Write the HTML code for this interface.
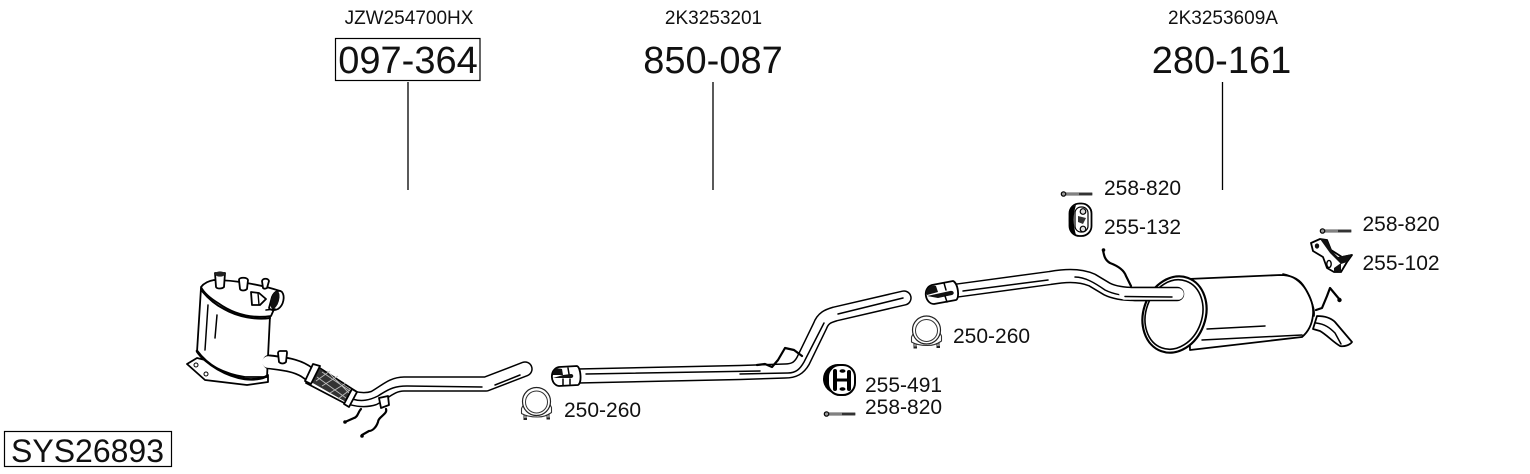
<!DOCTYPE html>
<html><head><meta charset="utf-8"><style>
html,body{margin:0;padding:0;background:#fff}
svg{display:block}
text{font-family:"Liberation Sans",sans-serif;fill:#111}
.l{font-size:21px}
.t{font-size:19px;text-anchor:middle}
.b{font-size:38px;text-anchor:middle}
.o{fill:none;stroke:#000;stroke-linejoin:round;stroke-linecap:round}
.w{fill:none;stroke:#fff;stroke-linejoin:round;stroke-linecap:round}
.s{fill:#fff;stroke:#000;stroke-width:1.8;stroke-linejoin:round}
.n{fill:none;stroke:#000;stroke-width:1.5;stroke-linecap:round}
.x{fill:none;stroke:#000;stroke-width:2.2;stroke-linecap:round;stroke-linejoin:round}
</style></head><body>
<svg width="1530" height="474" viewBox="0 0 1530 474" xmlns="http://www.w3.org/2000/svg">
<defs>
<g id="clamp">
<path d="M-12 1L-15 7V12C-10 15 -4 15.500 1 15.500C7 15.500 11 14 15 11V6L12 0" fill="#fff" stroke="#333" stroke-width="1.100" stroke-linejoin="round"/>
<circle cx="0" cy="0" r="14" fill="#fff" stroke="#222" stroke-width="1.200"/>
<circle cx="0" cy="0.500" r="11" fill="#fff" stroke="#333" stroke-width="1"/>
<path d="M-12.500 13V17M-10.500 14V17M10.500 13V16.500M12.500 12V16.500" stroke="#222" stroke-width="1" fill="none"/>
<path d="M-13 16.500h3.500v2h-3.500zM10 16h3.500v2h-3.500z" fill="#222"/>
</g>
<g id="bolt">
<circle cx="1.500" cy="0" r="2.200" fill="#999" stroke="#000" stroke-width="1.200"/>
<path d="M4 -1H30V1H4Z" fill="#bbb" stroke="#222" stroke-width="0.700"/>
<path d="M17 -1.300H30V1.300H17Z" fill="#333"/>
</g>
</defs>

<text class="t" x="409" y="24">JZW254700HX</text>
<text class="t" x="713.500" y="24">2K3253201</text>
<text class="t" x="1223" y="24">2K3253609A</text>
<rect x="335.500" y="38.500" width="144.500" height="42" fill="#fff" stroke="#000" stroke-width="1.200"/>
<text class="b" x="408" y="73">097-364</text>
<text class="b" x="713" y="73">850-087</text>
<text class="b" x="1221.500" y="73">280-161</text>
<path d="M408 82V190M713 82V190M1222.500 82V190" stroke="#000" stroke-width="1.300" fill="none"/>
<rect x="4.500" y="431.500" width="167" height="35" fill="#fff" stroke="#000" stroke-width="1.200"/>
<text x="11" y="462" style="font-size:32px">SYS26893</text>

<!-- catalyst -->
<path class="s" d="M187 364L197 358L268 375V382L247 385L205 380Z"/>
<circle cx="196" cy="365" r="2" fill="#fff" stroke="#000"/>
<circle cx="206" cy="374" r="2" fill="#fff" stroke="#000"/>
<path class="s" stroke-width="2.400" d="M201 288L197 352C205 364 225 374 245 377L267 377L270 316Z"/>
<path class="n" d="M208 305L205 350M217 315L215 338"/>
<path class="o" stroke-width="2.600" d="M197 351C207 365 226 376 245 379C253 380 262 379 267 376"/>
<path class="s" stroke-width="2" d="M201 287C204 283 208 281 214 280C235 280 262 285 280 291L279 298L271 316C250 319 232 313 218 303C210 298 204 293 201 287Z"/>
<path class="o" stroke-width="2" d="M202 291C207 297 214 304 224 309C238 317 256 320 270 318"/>
<path class="s" d="M215 273H225L224 287C222 289 217 289 216 287Z"/>
<ellipse cx="220" cy="274" rx="5" ry="2.600" fill="#222"/>
<path class="s" d="M239 280C239 277 247 277 248 280L247 289C245 291 241 291 240 289Z"/>
<path class="s" d="M262 281C263 278 268 278 269 281L267 288C265 289 264 289 263 288Z"/>
<path class="s" d="M251 292L259 293L266 299L260 305L252 305Z"/>
<path d="M258 293L259 305" stroke="#000" fill="none" stroke-width="1.400"/>
<path class="s" stroke-width="1.400" d="M272 297C275 290 280 290 282 292C285 296 284 305 278 309C274 311 270 310 269 308Z"/>
<ellipse cx="275" cy="300" rx="4" ry="9" transform="rotate(16 275 300)" fill="#111"/>
<path class="n" d="M266 310L275 309"/>

<!-- pipe 1 -->
<path class="o" stroke-width="15" d="M270 362C285 364 295 365 305 371L318 380" stroke-linecap="butt"/>
<path class="w" stroke-width="11.500" d="M268 362C285 364 295 365 305 371L318 380"/>
<path class="o" stroke-width="15.500" d="M352 398C360 400 368 400 374 398C385 392 392 384 404 384H486L525 369"/>
<path class="w" stroke-width="12.500" d="M352 398C360 400 368 400 374 398C385 392 392 384 404 384H486L525 369"/>
<path class="n" d="M352 399C362 402 370 400 378 396C390 388 396 386 407 386L482 387M495 385L520 375" stroke-width="1.300"/>
<path class="s" stroke-width="1.400" d="M315 365L357 392L348 405L306 383Z"/>
<path d="M319 368L354 392L346 402L311 382Z" fill="#333"/>
<path d="M322 372L350 391M327 371L352 396M317 377L346 398M330 371L316 381M338 376L322 386M346 383L330 393M351 389L338 399" stroke="#bbb" stroke-width="0.900" fill="none"/>
<path class="s" stroke-width="1.600" d="M313 364L320 366L311 384L305 381Z"/>
<path class="s" stroke-width="1.600" d="M352 389L357 392L349 407L344 404Z"/>
<path class="s" d="M280 351H286C287 351 287 352 287 353L286 362C284 364 281 364 279 362L278 353C278 352 279 351 280 351Z"/>
<path class="s" d="M379 398L388 396L389 405L381 408Z"/>
<path class="x" d="M361 409C358 412 358 417 354 418L345 422"/>
<path class="x" d="M386 409C388 414 378 417 378 422C376 428 372 431 369 431L362 435"/>
<circle cx="345" cy="422" r="1.800" fill="#000"/><circle cx="362" cy="436" r="1.800" fill="#000"/>

<!-- pipe 2 -->
<path class="o" stroke-width="15.500" d="M578 376L740 372.500L785 371C794 371 799 368 803 361L820 326C823 318 828 316 835 314L904 298"/>
<path class="w" stroke-width="12.500" d="M578 376L740 372.500L785 371C794 371 799 368 803 361L820 326C823 318 828 316 835 314L904 298"/>
<path class="n" d="M586 374L760 371M740 374L788 373C796 373 800 369 804 362L824 323M838 314L903 298" stroke-width="1.300"/>
<path class="s" stroke-width="2" d="M559 367L577 366C581 368 582 383 578 385L559 386C550 385 549 369 559 367Z"/>
<path d="M553 372C555 368 559 368 562 369L563 375H553ZM553 378H571C574 378 574 374 571 374L563 375" fill="#111"/>
<path class="n" d="M568 368L569 374M563 379V385M570 379V384"/>
<path class="x" d="M757 365L765 364L772 367L778 360L785 348L794 350L802 356" stroke-width="2.400"/>

<!-- pipe 3 -->
<path class="o" stroke-width="14.500" d="M950 291.500L1050 278C1062 276 1078 274 1092 280L1107 289C1115 293 1125 294 1135 294H1177"/>
<path class="w" stroke-width="11.500" d="M950 291.500L1050 278C1062 276 1078 274 1092 280L1107 289C1115 293 1125 294 1135 294H1177"/>
<path class="n" d="M963 291L1048 280M1075 277C1085 277 1095 283 1105 290C1115 295 1125 296 1135 296L1170 297" stroke-width="1.300"/>
<path class="s" stroke-width="2" d="M932 285L953 281C958 283 960 298 956 300L934 304C925 304 922 288 932 285Z"/>
<path d="M926 292C928 286 933 285 936 286L938 292L927 295ZM927 296L950 291C954 290 955 294 952 295L938 298Z" fill="#111"/>
<path class="n" d="M944 283L946 290M945 296L947 302"/>
<path class="x" d="M1103 250C1104 256 1105 260 1110 263C1118 266 1124 270 1126 276L1131 286" stroke-width="1.800"/>
<circle cx="1103.500" cy="250" r="1.800" fill="#000"/>

<!-- muffler -->
<path class="s" stroke-width="2.200" d="M1188 279L1280 275C1290 275 1298 278 1303 285C1310 295 1314 305 1313 315C1312 325 1308 332 1302 337L1190 350Z"/>
<path class="o" stroke-width="1.600" d="M1283 274C1293 276 1301 282 1306 290C1311 299 1315 308 1314 316"/>
<path class="n" d="M1207 329L1265 326M1202 340L1302 335"/>
<ellipse cx="1174.500" cy="314.500" rx="31" ry="39" transform="rotate(20 1174.500 314.500)" fill="#fff" stroke="#000" stroke-width="2.200"/>
<ellipse cx="1174" cy="314.500" rx="28" ry="35.500" transform="rotate(20 1174 314.500)" fill="#fff" stroke="#000" stroke-width="1.600"/>
<path class="o" stroke-width="14.500" d="M1135 294H1177"/>
<path class="w" stroke-width="11.500" d="M1125 294H1178"/>
<path class="n" d="M1125 296.500L1172 297" stroke-width="1.300"/>
<path class="s" d="M1317 316C1325 316 1331 318 1335 322L1352 342C1350 345 1344 347 1340 346C1333 342 1327 335 1320 331L1313 329Z"/>
<path class="n" d="M1316 323C1325 324 1330 328 1335 333L1341 344" stroke-width="1.200"/>
<path class="x" d="M1316 310L1322 308L1327 296L1330 288L1340 300" stroke-width="2"/>
<circle cx="1339.500" cy="300" r="2.200" fill="#000"/>

<!-- hardware -->
<use href="#clamp" x="536.500" y="401.500"/>
<use href="#clamp" x="926.500" y="330"/>
<use href="#bolt" x="825" y="414"/>
<use href="#bolt" x="1062" y="194"/>
<use href="#bolt" x="1321" y="231"/>

<!-- 255-491 -->
<circle cx="838" cy="379" r="15" fill="#000"/>
<rect x="828" y="365" width="27" height="30" rx="12" fill="#fff" stroke="#000" stroke-width="2"/>
<path d="M835 371V389M849 372V389" stroke="#000" stroke-width="4" stroke-linecap="round"/>
<path d="M835 380H849" stroke="#000" stroke-width="3"/>
<ellipse cx="842.500" cy="371" rx="3" ry="1.800" fill="#000"/><ellipse cx="842.500" cy="389" rx="3" ry="1.800" fill="#000"/>

<!-- 255-132 -->
<rect x="1069.500" y="203.500" width="22" height="32.500" rx="10" fill="#fff" stroke="#000" stroke-width="1.800"/>
<path d="M1071 208C1068 217 1068 225 1072 233L1076 235C1073 225 1073 214 1076 205Z" fill="#000"/>
<rect x="1075" y="207" width="13" height="25" rx="6" fill="#fff" stroke="#000" stroke-width="1.200"/>
<path d="M1078 216L1086 218L1083 224L1078 222Z" fill="#333"/>
<circle cx="1083" cy="211.500" r="2.800" fill="#ddd" stroke="#000" stroke-width="1.200"/>
<circle cx="1083" cy="229" r="2.800" fill="#ddd" stroke="#000" stroke-width="1.200"/>

<!-- 255-102 -->
<path class="s" stroke-width="1.500" d="M1311 243L1320 239L1327 240L1331 250L1342 257L1352 255L1347 262L1341 272L1334 272L1327 268L1323 257L1313 251Z"/>
<path d="M1320 239L1327 240L1332 251L1338 257L1352 254L1347 262L1341 264L1330 253ZM1334 268L1341 263V271L1334 272Z" fill="#111"/>
<ellipse cx="1317" cy="246" rx="2.200" ry="2.600" fill="#111"/>
<ellipse cx="1329" cy="264" rx="2.200" ry="3.600" fill="#fff" stroke="#000" stroke-width="1.400"/>

<text class="l" x="564" y="417">250-260</text>
<text class="l" x="953" y="343">250-260</text>
<text class="l" x="865" y="392">255-491</text>
<text class="l" x="865" y="414">258-820</text>
<text class="l" x="1104" y="195">258-820</text>
<text class="l" x="1104" y="234">255-132</text>
<text class="l" x="1362.500" y="231">258-820</text>
<text class="l" x="1362.500" y="270">255-102</text>
</svg>
</body></html>
